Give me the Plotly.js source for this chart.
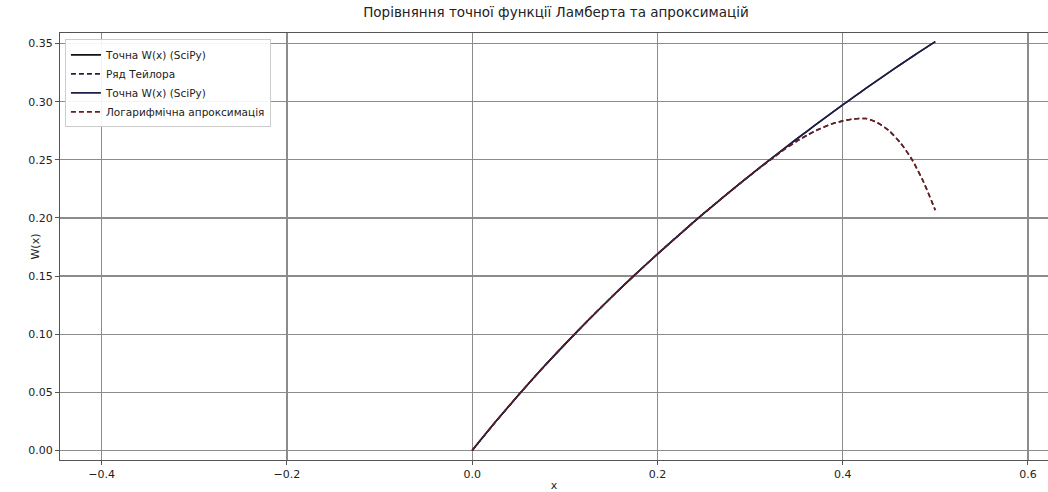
<!DOCTYPE html>
<html>
<head>
<meta charset="utf-8">
<script src="https://cdn.plot.ly/plotly-3.0.1.min.js"></script>
<style>html,body{margin:0;padding:0;background:#fff;}#chart{width:1048px;height:492px;}</style>
</head>
<body>
<div id="chart"></div>
<script>
// x values of the sampled curves
const xVals = [0, 0.025, 0.05, 0.075, 0.1, 0.125, 0.15, 0.175, 0.2, 0.225, 0.25, 0.275, 0.3,
  0.3125, 0.325, 0.3375, 0.35, 0.3625, 0.375, 0.3875, 0.4, 0.4125, 0.425, 0.4375, 0.45, 0.4625, 0.475, 0.4875, 0.5];
// exact W(x)
const exactW = [0, 0.0244, 0.0477, 0.0700, 0.0913, 0.1118, 0.1316, 0.1506, 0.1689, 0.1866, 0.2039, 0.2205, 0.2367,
  0.2446, 0.2524, 0.2601, 0.2677, 0.2752, 0.2826, 0.2899, 0.2972, 0.3043, 0.3114, 0.3183, 0.3252, 0.3320, 0.3387, 0.3452, 0.3517];
// Taylor series
const taylorW = [0, 0.0244, 0.0477, 0.0700, 0.0913, 0.1118, 0.1316, 0.1506, 0.1689, 0.1866, 0.2039, 0.2205, 0.2366,
  0.2444, 0.2517, 0.2592, 0.2658, 0.2716, 0.2766, 0.2806, 0.2835, 0.2852, 0.2855, 0.2820, 0.2751, 0.2645, 0.2501, 0.2307, 0.2067];
// logarithmic approximation (coincides with the Taylor curve)
const logW = taylorW.slice();

const names = ["Точна W(x) (SciPy)", "Ряд Тейлора", "Точна W(x) (SciPy)", "Логарифмічна апроксимація"];
const title = "Порівняння точної функції Ламберта та апроксимацій";
const xLabel = "x";
const yLabel = "W(x)";

const ff = 'DejaVu Sans, sans-serif';
const traces = [
  {x: xVals, y: exactW, name: names[0], mode: 'lines', line: {color: '#111111', width: 1.6, shape: 'spline', smoothing: 0.6}},
  {x: xVals, y: taylorW, name: names[1], mode: 'lines', line: {color: '#222244', width: 1.6, dash: '5px,3px', shape: 'spline', smoothing: 0.6}},
  {x: xVals, y: exactW, name: names[2], mode: 'lines', line: {color: '#1c1f4d', width: 1.6, shape: 'spline', smoothing: 0.6}},
  {x: xVals, y: logW, name: names[3], mode: 'lines', line: {color: '#6a1e1e', width: 1.6, dash: '5px,3px', shape: 'spline', smoothing: 0.6}}
];

const layout = {
  width: 1048, height: 492,
  margin: {l: 60, r: 0, t: 33, b: 32},
  paper_bgcolor: '#fff', plot_bgcolor: '#fff',
  font: {family: ff, size: 11, color: '#222'},
  showlegend: true,
  title: {text: title, font: {family: ff, size: 13.5, color: '#222'}, x: 0.502, xref: 'paper', xanchor: 'center', y: 0.975, yanchor: 'middle'},
  xaxis: {
    range: [-0.445, 0.6217], tick0: -0.4, dtick: 0.2, tickformat: '.1f',
    showgrid: true, gridcolor: '#8c8c8c', gridwidth: 1.3, zeroline: false,
    showline: true, linecolor: '#555', linewidth: 1, mirror: true,
    ticks: 'outside', ticklen: 4, tickcolor: '#555',
    tickfont: {family: ff, size: 11, color: '#222'},
    title: {text: xLabel, font: {family: ff, size: 11, color: '#222'}, standoff: 4}
  },
  yaxis: {
    range: [-0.0082, 0.3591], tick0: 0, dtick: 0.05, tickformat: '.2f',
    showgrid: true, gridcolor: '#8c8c8c', gridwidth: 1.3, zeroline: false,
    showline: true, linecolor: '#555', linewidth: 1, mirror: true,
    ticks: 'outside', ticklen: 4, tickcolor: '#555',
    tickfont: {family: ff, size: 11, color: '#222'}
  },
  annotations: [{
    text: yLabel, xref: 'paper', yref: 'paper', x: -0.0253, y: 0.5, xanchor: 'center', yanchor: 'middle',
    textangle: -90, showarrow: false, font: {family: ff, size: 11, color: '#222'}
  }],
  legend: {
    x: 0.005, y: 0.985, xanchor: 'left', yanchor: 'top',
    bgcolor: 'rgba(255,255,255,0.9)', bordercolor: '#cccccc', borderwidth: 1,
    font: {family: ff, size: 10.5, color: '#222'},
    itemwidth: 30, tracegroupgap: 0
  }
};
Plotly.newPlot('chart', traces, layout, {displayModeBar: false, staticPlot: true});
</script>
</body>
</html>
